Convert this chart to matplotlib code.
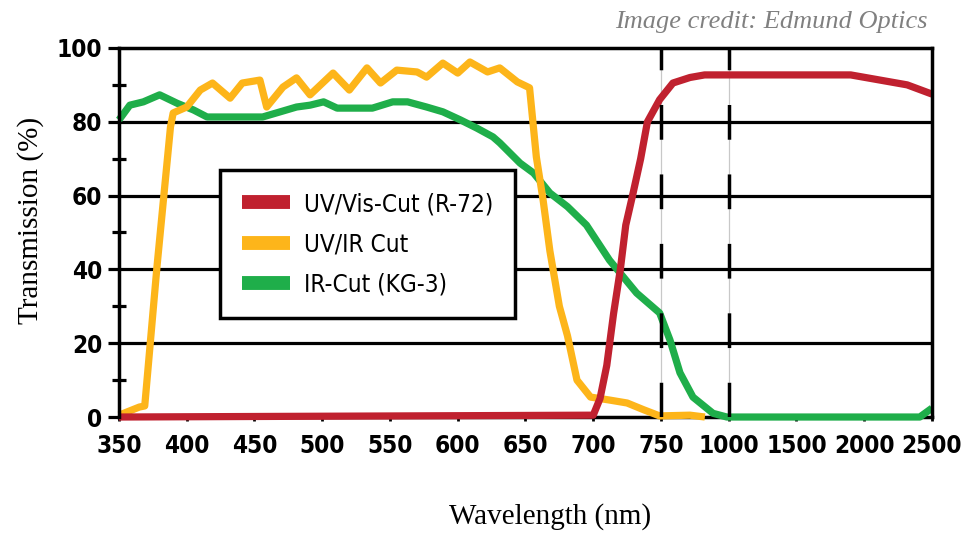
import numpy as np
import matplotlib
matplotlib.use("Agg")
import matplotlib.pyplot as plt

# x axis: evenly spaced ticks, not linear in nm
tick_wl = [350, 400, 450, 500, 550, 600, 650, 700, 750, 1000, 1500, 2000, 2500]
tick_pos = np.arange(len(tick_wl))

# UV/Vis-Cut (R-72)
red_wl = [350, 700, 705, 710, 715, 720, 724, 729, 735, 740, 749, 794, 857, 911, 1900, 2317, 2500]
red_t = [0, 0.5, 5, 14, 28, 40, 52, 60, 70, 80, 86, 90.5, 92, 92.7, 92.7, 90, 87.5]

# UV/IR Cut
orange_wl = [350, 365, 369, 378, 388, 390, 400, 410, 419, 432, 441, 454, 459, 471, 481, 491,
             508, 520, 533, 543, 555, 570, 577, 589, 600, 609, 622, 631, 644, 653, 658, 663,
             668, 675, 681, 688, 698, 712, 725, 737, 749, 857, 912]
orange_t = [0.5, 2.7, 3, 40.6, 78.6, 82.4, 84, 88.6, 90.5, 86.4, 90.5, 91.3, 84, 89.4, 91.9, 87.3,
            93.2, 88.6, 94.6, 90.5, 94, 93.5, 92.1, 95.9, 93.2, 96.2, 93.5, 94.6, 90.8, 89.2, 70.5, 58.8,
            45, 30, 22, 10, 5.4, 4.6, 3.8, 2, 0.3, 0.5, 0]

# IR-Cut (KG-3)
green_wl = [350, 358, 368, 380, 393, 405, 415, 456, 469, 481, 491, 501, 511, 537, 552, 563, 577,
            589, 602, 614, 626, 631, 646, 656, 668, 681, 695, 712, 732, 749, 783, 820, 868, 942,
            993, 2410, 2500]
green_t = [80.5, 84.5, 85.4, 87.3, 85, 83.2, 81.3, 81.3, 82.7, 84, 84.5, 85.4, 83.7, 83.7, 85.4, 85.4, 84,
           82.7, 80.5, 78.3, 75.9, 74.3, 68.8, 66.1, 60.7, 57, 52, 42.5, 33.6, 28.2, 20.9, 12, 5.4, 1,
           0, 0, 2.4]

y_ticks = [0, 20, 40, 60, 80, 100]

RED = "#c0212f"
ORANGE = "#fdb51a"
GREEN = "#1fae4a"

narrow = ["DejaVu Sans"]
serif = ["Liberation Serif", "DejaVu Serif"]


def fwd(x):
    return np.interp(x, tick_wl, tick_pos)


def inv(p):
    return np.interp(p, tick_pos, tick_wl)


fig = plt.figure(figsize=(9.69, 5.33), dpi=100)
ax = fig.add_axes([0.1228, 0.2176, 0.8390, 0.6924])
ax.set_xscale("function", functions=(fwd, inv))
ax.set_xlim(350, 2500)
ax.set_ylim(0, 100)

# grid
for y in [20, 40, 60, 80]:
    ax.axhline(y, color="black", lw=2.3, zorder=1)
for x in [750, 1000]:
    ax.axvline(x, color="#c8c8c8", lw=0.9, zorder=1)
    ax.axvline(x, color="black", lw=2.5, linestyle=(0, (10, 10)), zorder=5)

lw = 5.2
kw = dict(solid_joinstyle="round", solid_capstyle="butt", clip_on=False)
ax.plot(green_wl, green_t, color=GREEN, lw=lw, zorder=2, label="IR-Cut (KG-3)", **kw)
ax.plot(orange_wl, orange_t, color=ORANGE, lw=lw, zorder=3, label="UV/IR Cut", **kw)
ax.plot(red_wl, red_t, color=RED, lw=lw, zorder=4, label="UV/Vis-Cut (R-72)", **kw)

for s in ax.spines.values():
    s.set_linewidth(2.5)
    s.set_zorder(6)
ax.spines["bottom"].set_zorder(1.5)

ax.set_xticks(tick_wl)
ax.set_xticklabels([str(t) for t in tick_wl])
ax.xaxis.set_minor_locator(matplotlib.ticker.NullLocator())
ax.set_yticks(y_ticks)
ax.set_yticks([10, 30, 50, 70, 90], minor=True)
ax.tick_params(axis="x", direction="out", length=3, width=2, pad=9)
ax.tick_params(axis="y", which="major", direction="out", length=8, width=2.3, pad=4)
ax.tick_params(axis="y", which="minor", direction="inout", length=10, width=2.3)
for lab in ax.get_xticklabels() + ax.get_yticklabels():
    lab.set_family(narrow)
    lab.set_fontsize(17.5)
    lab.set_fontstretch("condensed")
    lab.set_fontweight("bold")

ax.set_xlabel("Wavelength (nm)", family=serif, fontsize=21)
ax.xaxis.set_label_coords(0.530, -0.232)
ax.set_ylabel("Transmission (%)", family=serif, fontsize=21)
ax.yaxis.set_label_coords(-0.092, 0.534)

h, l = ax.get_legend_handles_labels()
leg = ax.legend(h[::-1], l[::-1], loc="upper left", bbox_to_anchor=(0.124, 0.669),
                prop={"family": narrow, "size": 17.5, "stretch": "condensed"}, frameon=True,
                fancybox=False, edgecolor="black", framealpha=1, borderpad=0.9, labelspacing=0.67,
                handlelength=2.0, handletextpad=0.55, borderaxespad=0)
leg.get_frame().set_linewidth(2.5)
leg.set_zorder(7)
for line in leg.get_lines():
    line.set_linewidth(10)

fig.text(928 / 969, 1 - 22 / 533, "Image credit: Edmund Optics", ha="right", va="center",
         family=serif, style="italic", fontsize=19, color="#808080")

fig.savefig("out.png", dpi=100)
